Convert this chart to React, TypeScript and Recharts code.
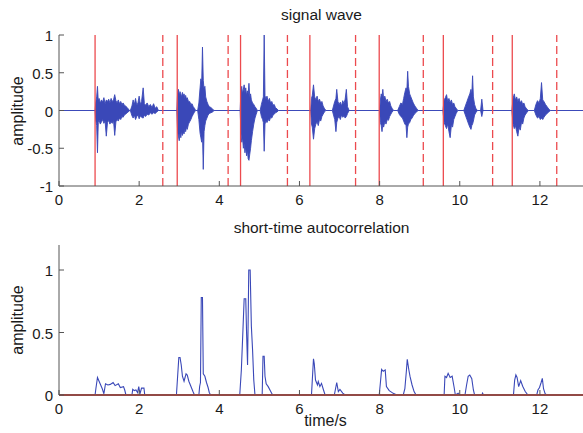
import { ComposedChart, Area, Line, XAxis, YAxis, ReferenceLine } from 'recharts';

const xTicks = [0, 2, 4, 6, 8, 10, 12];
const waveTicks = [-1, -0.5, 0, 0.5, 1];
const acfTicks = [0, 0.5, 1];

// endpoint detection: solid = start, dashed = end of each word
const wordStarts = [0.9, 2.95, 4.53, 6.26, 7.99, 9.59, 11.31];
const wordEnds = [2.59, 4.22, 5.7, 7.4, 9.09, 10.82, 12.42];

// signal wave envelope (upper / lower), one line per burst
const waveTime = [
  0,
  0.90, 0.92, 0.94, 0.96, 0.98, 1.00, 1.03, 1.06, 1.09, 1.12, 1.15, 1.18, 1.21, 1.24, 1.27, 1.30, 1.33, 1.36, 1.39, 1.42, 1.45, 1.48, 1.51, 1.54, 1.57, 1.60, 1.63, 1.66, 1.70, 1.73, 1.76,
  1.78, 1.82, 1.85, 1.88, 1.91, 1.94, 1.97, 2.00, 2.03, 2.06, 2.10, 2.13, 2.16, 2.20, 2.24, 2.28, 2.32, 2.36, 2.40, 2.44, 2.48,
  2.94, 2.96, 2.98, 3.00, 3.02, 3.04, 3.06, 3.08, 3.10, 3.12, 3.14, 3.16, 3.18, 3.20, 3.23, 3.26, 3.29, 3.32, 3.35, 3.38, 3.41,
  3.46, 3.49, 3.52, 3.54, 3.56, 3.58, 3.60, 3.62, 3.64, 3.66, 3.69, 3.72, 3.75, 3.79, 3.83, 3.87,
  4.52, 4.54, 4.56, 4.58, 4.60, 4.62, 4.64, 4.66, 4.68, 4.70, 4.72, 4.74, 4.76, 4.78, 4.80, 4.83, 4.86, 4.89, 4.92, 4.95,
  5.02, 5.05, 5.08, 5.10, 5.12, 5.14, 5.16, 5.19, 5.22, 5.25, 5.28, 5.31, 5.34, 5.37, 5.40, 5.44, 5.48,
  6.28, 6.30, 6.32, 6.35, 6.38, 6.41, 6.44, 6.47, 6.50, 6.53, 6.56, 6.59, 6.62, 6.66,
  6.82, 6.85, 6.88, 6.91, 6.93, 6.96, 6.99, 7.02, 7.05, 7.08, 7.11, 7.14, 7.17, 7.20, 7.24,
  8.00, 8.02, 8.04, 8.06, 8.08, 8.10, 8.13, 8.16, 8.19, 8.22, 8.25, 8.28, 8.31, 8.35,
  8.45, 8.49, 8.53, 8.57, 8.60, 8.63, 8.66, 8.68, 8.70, 8.72, 8.75, 8.78, 8.81, 8.84, 8.88, 8.92, 8.96,
  9.58, 9.61, 9.64, 9.67, 9.70, 9.73, 9.76, 9.79, 9.82, 9.85, 9.88, 9.91, 9.95,
  10.10, 10.14, 10.18, 10.22, 10.25, 10.28, 10.30, 10.32, 10.34, 10.37, 10.40, 10.44, 10.52, 10.55, 10.58,
  11.30, 11.33, 11.36, 11.39, 11.42, 11.45, 11.48, 11.51, 11.54, 11.57, 11.60, 11.63, 11.67, 11.71,
  11.86, 11.90, 11.94, 11.98, 12.01, 12.04, 12.07, 12.10, 12.14, 12.18, 12.22, 12.26,
  13.1,
];
const waveUpper = [
  0,
  0, 0.12, 0.18, 0.32, 0.12, 0.16, 0.10, 0.14, 0.11, 0.17, 0.09, 0.14, 0.12, 0.15, 0.10, 0.16, 0.12, 0.14, 0.21, 0.13, 0.10, 0.14, 0.09, 0.12, 0.08, 0.10, 0.07, 0.06, 0.04, 0.02, 0,
  0, 0.06, 0.14, 0.08, 0.16, 0.07, 0.10, 0.19, 0.08, 0.12, 0.30, 0.09, 0.07, 0.10, 0.05, 0.08, 0.04, 0.09, 0.03, 0.05, 0,
  0, 0.24, 0.28, 0.20, 0.25, 0.22, 0.18, 0.24, 0.19, 0.22, 0.17, 0.20, 0.15, 0.17, 0.12, 0.12, 0.08, 0.09, 0.05, 0.03, 0,
  0, 0.10, 0.30, 0.42, 0.36, 0.84, 0.40, 0.28, 0.32, 0.18, 0.12, 0.08, 0.05, 0.04, 0.02, 0,
  0, 0.26, 0.32, 0.22, 0.28, 0.34, 0.24, 0.30, 0.20, 0.26, 0.22, 0.36, 0.18, 0.22, 0.14, 0.10, 0.08, 0.05, 0.03, 0,
  0, 0.08, 0.14, 0.18, 1.0, 0.20, 0.15, 0.19, 0.12, 0.16, 0.10, 0.12, 0.07, 0.08, 0.04, 0.02, 0,
  0, 0.16, 0.20, 0.34, 0.18, 0.14, 0.19, 0.12, 0.15, 0.10, 0.12, 0.06, 0.03, 0,
  0, 0.06, 0.12, 0.16, 0.28, 0.12, 0.08, 0.11, 0.06, 0.13, 0.09, 0.15, 0.28, 0.05, 0,
  0, 0.14, 0.22, 0.18, 0.28, 0.16, 0.19, 0.12, 0.15, 0.10, 0.12, 0.06, 0.03, 0,
  0, 0.05, 0.10, 0.08, 0.16, 0.24, 0.30, 0.26, 0.52, 0.32, 0.22, 0.18, 0.14, 0.10, 0.06, 0.03, 0,
  0, 0.14, 0.17, 0.21, 0.12, 0.16, 0.10, 0.14, 0.08, 0.10, 0.05, 0.03, 0,
  0, 0.06, 0.12, 0.18, 0.22, 0.28, 0.20, 0.46, 0.18, 0.08, 0.03, 0, 0, 0.15, 0,
  0, 0.16, 0.22, 0.14, 0.18, 0.12, 0.16, 0.10, 0.13, 0.08, 0.10, 0.05, 0.02, 0,
  0, 0.08, 0.13, 0.10, 0.16, 0.37, 0.14, 0.12, 0.08, 0.05, 0.02, 0,
  0,
];
const waveLower = [
  0,
  0, -0.14, -0.20, -0.56, -0.16, -0.13, -0.18, -0.15, -0.12, -0.17, -0.14, -0.34, -0.16, -0.13, -0.18, -0.15, -0.17, -0.13, -0.33, -0.15, -0.12, -0.14, -0.10, -0.12, -0.08, -0.09, -0.06, -0.05, -0.03, -0.02, 0,
  0, -0.07, -0.10, -0.06, -0.12, -0.08, -0.06, -0.11, -0.07, -0.09, -0.10, -0.06, -0.08, -0.05, -0.06, -0.03, -0.05, -0.03, -0.04, -0.02, 0,
  0, -0.28, -0.34, -0.40, -0.30, -0.36, -0.27, -0.33, -0.28, -0.31, -0.25, -0.28, -0.22, -0.25, -0.18, -0.15, -0.12, -0.08, -0.05, -0.02, 0,
  0, -0.12, -0.30, -0.36, -0.42, -0.30, -0.78, -0.28, -0.20, -0.14, -0.10, -0.06, -0.04, -0.03, -0.02, 0,
  0, -0.30, -0.42, -0.36, -0.50, -0.44, -0.56, -0.48, -0.60, -0.52, -0.64, -0.66, -0.58, -0.50, -0.40, -0.28, -0.18, -0.10, -0.05, 0,
  0, -0.08, -0.12, -0.16, -0.54, -0.18, -0.14, -0.16, -0.12, -0.14, -0.09, -0.10, -0.06, -0.05, -0.03, -0.02, 0,
  0, -0.18, -0.22, -0.38, -0.24, -0.18, -0.15, -0.20, -0.12, -0.14, -0.08, -0.05, -0.02, 0,
  0, -0.06, -0.12, -0.28, -0.16, -0.10, -0.08, -0.12, -0.06, -0.09, -0.07, -0.10, -0.08, -0.04, 0,
  0, -0.16, -0.20, -0.28, -0.18, -0.22, -0.15, -0.18, -0.12, -0.13, -0.08, -0.05, -0.02, 0,
  0, -0.05, -0.08, -0.10, -0.14, -0.18, -0.20, -0.36, -0.22, -0.18, -0.16, -0.12, -0.10, -0.07, -0.04, -0.02, 0,
  0, -0.16, -0.20, -0.24, -0.18, -0.28, -0.36, -0.20, -0.22, -0.12, -0.08, -0.04, 0,
  0, -0.06, -0.12, -0.18, -0.22, -0.25, -0.20, -0.18, -0.14, -0.06, -0.03, 0, 0, -0.08, 0,
  0, -0.18, -0.24, -0.20, -0.28, -0.34, -0.22, -0.26, -0.16, -0.18, -0.10, -0.06, -0.03, 0,
  0, -0.06, -0.10, -0.08, -0.12, -0.10, -0.12, -0.09, -0.06, -0.04, -0.02, 0,
  0,
];

// short-time autocorrelation (normalised)
const acfTime = [
  0,
  0.90, 0.92, 0.96, 1.00, 1.04, 1.08, 1.12, 1.16, 1.22, 1.28, 1.35, 1.40, 1.48, 1.53, 1.61, 1.64, 1.67,
  1.82, 1.84, 1.88, 1.92, 1.96, 1.99, 2.02, 2.06, 2.12, 2.14,
  2.93, 2.96, 2.99, 3.02, 3.05, 3.08, 3.12, 3.17, 3.20, 3.24, 3.29, 3.34, 3.38,
  3.49, 3.51, 3.53, 3.55, 3.58, 3.60, 3.64, 3.68, 3.72, 3.75, 3.78,
  4.51, 4.55, 4.59, 4.62, 4.66, 4.68, 4.705, 4.72, 4.735, 4.77, 4.80, 4.83, 4.86, 4.89,
  5.07, 5.09, 5.12, 5.14, 5.17, 5.22, 5.28, 5.33,
  6.30, 6.35, 6.37, 6.40, 6.45, 6.47, 6.51, 6.55, 6.60, 6.64,
  6.87, 6.93, 6.97, 7.01, 7.08, 7.14,
  7.99, 8.02, 8.05, 8.09, 8.14, 8.17, 8.24, 8.34, 8.43,
  8.59, 8.63, 8.67, 8.69, 8.73, 8.76, 8.81, 8.86, 8.91,
  9.61, 9.63, 9.67, 9.71, 9.76, 9.81, 9.86, 9.89, 9.96, 10.00,
  10.13, 10.17, 10.21, 10.25, 10.30, 10.34, 10.37, 10.55, 10.57, 10.59,
  11.34, 11.37, 11.40, 11.43, 11.47, 11.52, 11.57, 11.63, 11.70,
  11.92, 11.95, 11.99, 12.03, 12.06, 12.09, 12.13, 12.17,
  13.1,
];
const acfValue = [
  0,
  0, 0.05, 0.14, 0.11, 0.08, 0.05, 0.01, 0.09, 0.08, 0.085, 0.10, 0.075, 0.09, 0.06, 0.067, 0.04, 0,
  0, 0.045, 0.035, 0.04, 0.02, 0.067, 0.01, 0.055, 0.055, 0,
  0, 0.15, 0.30, 0.30, 0.24, 0.15, 0.11, 0.17, 0.16, 0.11, 0.07, 0.03, 0,
  0, 0.07, 0.10, 0.78, 0.78, 0.17, 0.15, 0.10, 0.06, 0.02, 0,
  0, 0.2, 0.52, 0.77, 0.77, 0.5, 0.24, 0.6, 1.0, 1.0, 0.55, 0.36, 0.12, 0,
  0, 0.31, 0.31, 0.15, 0.09, 0.067, 0.03, 0,
  0, 0.29, 0.25, 0.12, 0.08, 0.107, 0.067, 0.093, 0.04, 0,
  0, 0.10, 0.027, 0.045, 0.015, 0,
  0, 0.10, 0.205, 0.19, 0.20, 0.067, 0.035, 0.013, 0,
  0, 0.05, 0.20, 0.285, 0.20, 0.147, 0.08, 0.027, 0,
  0, 0.15, 0.14, 0.173, 0.14, 0.15, 0.06, 0, 0.015, 0,
  0, 0.08, 0.15, 0.16, 0.13, 0.04, 0, 0, 0.015, 0,
  0, 0.12, 0.16, 0.14, 0.067, 0.115, 0.07, 0.03, 0,
  0, 0.04, 0.06, 0.10, 0.133, 0.05, 0.01, 0,
  0,
];

const waveData = waveTime.map((t, i) => ({ t, range: [waveLower[i], waveUpper[i]] }));
const acfData = acfTime.map((t, i) => ({ t, v: acfValue[i] }));

const BLUE = '#3a48b8';
const RED = '#ec4a4e';
const AXIS = '#555';
const FONT = '"Liberation Sans", Arial, Helvetica, sans-serif';
const TXT = '#1a1a1a';

function BottomTick({ x, y, payload }: any) {
  return (
    <g>
      <line x1={x} x2={x} y1={y} y2={y - 5} stroke={AXIS} />
      <text x={x} y={y + 19} textAnchor="middle" fontSize={15} fill={TXT} fontFamily={FONT}>
        {payload.value}
      </text>
    </g>
  );
}
function TopTick({ x, y }: any) {
  return <line x1={x} x2={x} y1={y} y2={y + 5} stroke={AXIS} />;
}
function LeftTick({ x, y, payload }: any) {
  return (
    <g>
      <line x1={x} x2={x + 5} y1={y} y2={y} stroke={AXIS} />
      <text x={x - 6} y={y + 6} textAnchor="end" fontSize={15} fill={TXT} fontFamily={FONT}>
        {payload.value}
      </text>
    </g>
  );
}
function RightTick({ x, y }: any) {
  return <line x1={x} x2={x - 5} y1={y} y2={y} stroke={AXIS} />;
}

const textStyle: any = { position: 'absolute', fontFamily: FONT, color: TXT, whiteSpace: 'nowrap' };

export default function App() {
  // box with inward ticks on all four sides, matlab style
  const axes = (yTicks: number[], yDomain: [number, number]) => [
    <XAxis key="xb" xAxisId={0} dataKey="t" type="number" domain={[0, 13.1]} allowDataOverflow ticks={xTicks}
      interval={0} height={29} tickSize={0} tickMargin={0} tickLine={false} axisLine={{ stroke: AXIS }} tick={<BottomTick />} />,
    <XAxis key="xt" xAxisId="top" orientation="top" dataKey="t" type="number" domain={[0, 13.1]} allowDataOverflow
      ticks={xTicks} interval={0} height={0} tickSize={0} tickMargin={0} tickLine={false} axisLine={{ stroke: AXIS }} tick={<TopTick />} />,
    <YAxis key="yl" yAxisId={0} type="number" domain={yDomain} allowDataOverflow ticks={yTicks} interval={0} width={50}
      tickSize={0} tickMargin={0} tickLine={false} axisLine={{ stroke: AXIS }} tick={<LeftTick />} />,
    <YAxis key="yr" yAxisId="right" orientation="right" type="number" domain={yDomain} allowDataOverflow ticks={yTicks}
      interval={0} width={0} tickSize={0} tickMargin={0} tickLine={false} axisLine={{ stroke: AXIS }} tick={<RightTick />} />,
  ];

  return (
    <div style={{ position: 'fixed', left: 0, top: 0, width: 583, height: 433, overflow: 'hidden', background: '#fff' }}>
      <div style={{ ...textStyle, left: 59, width: 525, top: 6, textAlign: 'center', fontSize: 15.5 }}>signal wave</div>
      <div style={{ ...textStyle, left: 59, width: 525, top: 219, textAlign: 'center', fontSize: 15.5 }}>short-time autocorrelation</div>
      <div style={{ ...textStyle, left: 63, width: 525, top: 412, textAlign: 'center', fontSize: 16 }}>time/s</div>
      <div style={{ ...textStyle, left: 18, top: 111, fontSize: 16, transform: 'translate(-50%, -50%) rotate(-90deg)' }}>amplitude</div>
      <div style={{ ...textStyle, left: 18, top: 320, fontSize: 16, transform: 'translate(-50%, -50%) rotate(-90deg)' }}>amplitude</div>

      <div style={{ position: 'absolute', left: 0, top: 0 }}>
        <ComposedChart width={600} height={215} data={waveData} margin={{ top: 35, right: 16, bottom: 0, left: 9 }}>
          {axes(waveTicks, [-1, 1])}
          <Area type="linear" dataKey="range" stroke={BLUE} strokeWidth={0.9} fill={BLUE} fillOpacity={1}
            dot={false} activeDot={false} isAnimationActive={false} />
          {wordStarts.map((s) => (
            <ReferenceLine key={'s' + s} x={s} stroke={RED} strokeWidth={1.3} />
          ))}
          {wordEnds.map((e) => (
            <ReferenceLine key={'e' + e} x={e} stroke={RED} strokeWidth={1.3} strokeDasharray="8 4" />
          ))}
        </ComposedChart>
      </div>

      <div style={{ position: 'absolute', left: 0, top: 210 }}>
        <ComposedChart width={600} height={214} data={acfData} margin={{ top: 35, right: 16, bottom: 0, left: 9 }}>
          {axes(acfTicks, [0, 1.2])}
          <Line type="linear" dataKey="v" stroke={BLUE} strokeWidth={1.1} dot={false} activeDot={false}
            isAnimationActive={false} />
          <ReferenceLine y={0} stroke="#d04038" strokeWidth={2} />
        </ComposedChart>
      </div>
    </div>
  );
}
